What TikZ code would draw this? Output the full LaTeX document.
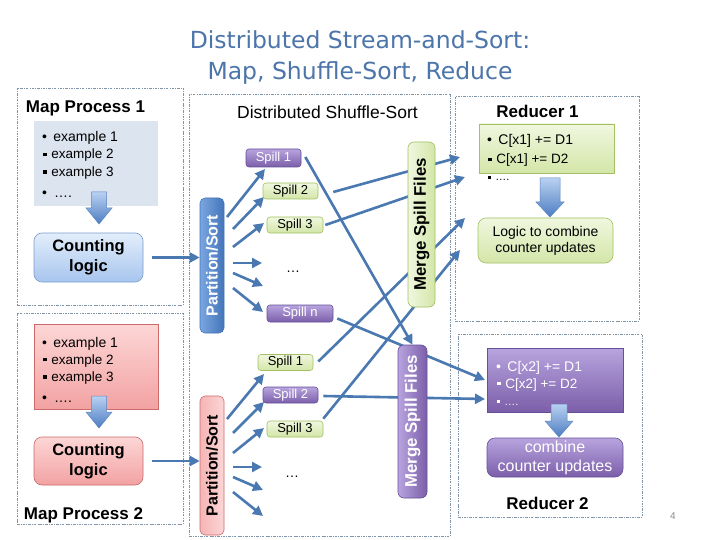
\documentclass[tikz,border=0pt]{standalone}
\usepackage{fontspec}
\setmainfont{Liberation Sans}
\newfontfamily\titlefont{DejaVu Sans}
\usetikzlibrary{arrows.meta}
\pgfdeclarelayer{bg}
\pgfsetlayers{bg,main}
\definecolor{titlec}{HTML}{4C75AA}
\definecolor{dashc}{HTML}{7F93A9}
\definecolor{arrc}{HTML}{4A78B0}
\definecolor{greytbox}{HTML}{DCE4EF}
\definecolor{grtop}{HTML}{F0F7DF}
\definecolor{grbot}{HTML}{D3E6A8}
\definecolor{grline}{HTML}{A3C163}
\definecolor{putop}{HTML}{B8A4DE}
\definecolor{pubot}{HTML}{7B5EA9}
\definecolor{puline}{HTML}{65509A}
\definecolor{bltop}{HTML}{E3EEFB}
\definecolor{blbot}{HTML}{A7C5EE}
\definecolor{blline}{HTML}{7C9DCF}
\definecolor{bbleft}{HTML}{7AA6E0}
\definecolor{bbright}{HTML}{4475BA}
\definecolor{pktop}{HTML}{FDD6D6}
\definecolor{pkbot}{HTML}{F2A2A2}
\definecolor{pkline}{HTML}{CC6A6A}
\definecolor{batop}{HTML}{B9D1F1}
\definecolor{babot}{HTML}{4D7DC2}
\definecolor{baline}{HTML}{5A86C2}
\definecolor{pagec}{HTML}{8C8C8C}
\newcommand\mysq{\raisebox{0.2em}{\rule{0.25em}{0.25em}}}
\newcommand\bkarrow[6]{%
  \shade[top color=batop, bottom color=babot, draw=baline, line width=0.5pt]
  ({#1-#5/2},#2) -- ({#1+#5/2},#2) -- ({#1+#5/2},#3) -- ({#1+#6/2},#3) --
  (#1,#4) -- ({#1-#6/2},#3) -- ({#1-#5/2},#3) -- cycle;}
\begin{document}
\begin{tikzpicture}[x=1pt,y=-1pt,
  dbox/.style={draw=dashc, line width=0.75pt, dash pattern=on 2.5pt off 1.2pt on 0.7pt off 1.2pt, rectangle, inner sep=0},
  conn/.style={draw=arrc, line width=2.6pt, -{Triangle[length=10pt,width=10pt]}},
  box/.style={rectangle, inner sep=0, line width=0.6pt},
  grbox/.style={box, top color=grtop, bottom color=grbot, draw=grline},
  pubox/.style={box, top color=putop, bottom color=pubot, draw=puline, text=white},
  spill/.style={rounded corners=3pt, minimum width=55pt, minimum height=16pt, font=\fontsize{13}{15}\selectfont},
  rotlbl/.style={rotate=90, font=\fontsize{16}{18}\selectfont\bfseries, inner sep=0},
  lbl/.style={font=\fontsize{17}{20}\selectfont\bfseries, inner sep=0, anchor=base},
  exl/.style={font=\fontsize{14}{16}\selectfont, inner sep=0, anchor=base west},
  exs/.style={font=\fontsize{13.5}{16}\selectfont, inner sep=0, anchor=base west}]
\useasboundingbox (0,0) rectangle (720,540);
\begin{pgfonlayer}{bg}
\fill[white] (0,0) rectangle (720,540);
\end{pgfonlayer}

% title
\node[font=\titlefont\fontsize{23.5}{28}\selectfont, text=titlec, anchor=base, inner sep=0] (t1) at (360,49) {Distributed Stream-and-Sort:};
\node[font=\titlefont\fontsize{23.5}{28}\selectfont, text=titlec, anchor=base, inner sep=0] (t2) at (360,80) {Map, Shuffle-Sort, Reduce};

% dashed containers
\begin{pgfonlayer}{bg}
\node[dbox, minimum width=166pt, minimum height=217pt] (map1) at (100,196.5) {};
\node[dbox, minimum width=261pt, minimum height=442pt] (shuf) at (319.5,315) {};
\node[dbox, minimum width=184pt, minimum height=225pt] (red1) at (547,208.5) {};
\node[dbox, minimum width=166pt, minimum height=211pt] (map2) at (100,418.5) {};
\node[dbox, minimum width=184pt, minimum height=183pt] (red2) at (550,425.5) {};
\end{pgfonlayer}

% labels
\node[lbl] (lm1) at (85.5,113) {Map Process 1};
\node[lbl] (lm2) at (83.5,519) {Map Process 2};
\node[lbl, font=\fontsize{17.5}{20}\selectfont] (lsh) at (327.5,119) {Distributed Shuffle-Sort};
\node[lbl] (lr1) at (537.5,118) {Reducer 1};
\node[lbl] (lr2) at (547.5,509) {Reducer 2};

% Map process 1
\node[box, fill=greytbox, minimum width=124pt, minimum height=85pt] (ex1) at (96,163.5) {};
\node[exl] (m1a) at (42,142) {•\hspace{0.45em}example 1};
\node[exs] (m1b) at (43,159) {\mysq\hspace{0.35em}example 2};
\node[exs] (m1c) at (43,176.5) {\mysq\hspace{0.35em}example 3};
\node[exl] (m1d) at (42,197) {•\hspace{0.5em}….};
\bkarrow{99}{192}{208}{224}{15}{26}
\node[box, rounded corners=8pt, top color=bltop, bottom color=blbot, draw=blline, minimum width=109pt, minimum height=49pt, align=center, font=\fontsize{16.5}{20}\selectfont\bfseries] (cl1) at (88.5,257.5) {Counting\\logic};

% Map process 2
\node[box, top color=pktop, bottom color=pkbot, draw=pkline, minimum width=124pt, minimum height=85pt] (ex2) at (96,366.5) {};
\node[exl] (m2a) at (42,347) {•\hspace{0.45em}example 1};
\node[exs] (m2b) at (43,364) {\mysq\hspace{0.35em}example 2};
\node[exs] (m2c) at (43,381.5) {\mysq\hspace{0.35em}example 3};
\node[exl] (m2d) at (42,402) {•\hspace{0.5em}….};
\bkarrow{99}{396}{412}{428}{15}{26}
\node[box, rounded corners=8pt, top color=pktop, bottom color=pkbot, draw=pkline, minimum width=109pt, minimum height=48pt, align=center, font=\fontsize{16.5}{20}\selectfont\bfseries] (cl2) at (88.5,461) {Counting\\logic};

% Partition/Sort boxes
\node[box, rounded corners=5pt, left color=bbleft, right color=bbright, draw=bbright, minimum width=24pt, minimum height=135pt] (p1) at (212,265.5) {};
\node[rotlbl, text=white] (p1t) at (p1.center) {Partition/Sort};
\node[box, rounded corners=5pt, left color=pkbot!80, right color=pktop, draw=pkline, minimum width=24pt, minimum height=139pt] (p2) at (212,465.5) {};
\node[rotlbl, text=black] (p2t) at (p2.center) {Partition/Sort};

% spills upper
\node[spill, pubox, minimum height=18pt] (s1a) at (273.5,158) {Spill 1};
\node[spill, grbox] (s2a) at (290.5,191) {Spill 2};
\node[spill, grbox, minimum width=56pt] (s3a) at (295,225) {Spill 3};
\node[font=\fontsize{14}{16}\selectfont, inner sep=0] (da) at (293,272) {…};
\node[spill, pubox, minimum width=66pt, minimum height=17pt] (sna) at (300,313.5) {Spill n};

% spills lower
\node[spill, grbox] (s1b) at (285.5,362.5) {Spill 1};
\node[spill, pubox] (s2b) at (290.5,395) {Spill 2};
\node[spill, grbox, minimum width=56pt] (s3b) at (295,429) {Spill 3};
\node[font=\fontsize{14}{16}\selectfont, inner sep=0] (db) at (292,477) {…};

% merge boxes
\node[box, rounded corners=6pt, left color=grtop, right color=grbot, draw=grline, minimum width=27pt, minimum height=165pt] (m1) at (421.5,224.5) {};
\node[rotlbl, font=\fontsize{16.8}{20}\selectfont\bfseries, text=black] (m1t) at (m1.center) {Merge Spill Files};
\node[box, rounded corners=6pt, left color=putop, right color=pubot, draw=puline, minimum width=29pt, minimum height=153pt] (m2) at (412.5,421.5) {};
\node[rotlbl, font=\fontsize{16.8}{20}\selectfont\bfseries, text=white] (m2t) at (m2.center) {Merge Spill Files};

% Reducer 1
\node[box, top color=grtop, bottom color=grbot, draw=grline, minimum width=135pt, minimum height=49pt] (rb1) at (546.5,148.5) {};
\node[exl] (r1a) at (487,145) {•\hspace{0.45em}C[x1] += D1};
\node[exs] (r1b) at (488,164) {\mysq\hspace{0.35em}C[x1] += D2};
\node[exs, font=\fontsize{11}{13}\selectfont] (r1c) at (488,181) {\mysq\hspace{0.4em}….};
\bkarrow{550}{178}{202}{217}{20}{28}
\node[grbox, rounded corners=8pt, minimum width=135pt, minimum height=45pt, align=center, font=\fontsize{14}{16}\selectfont] (lg1) at (545.5,240.5) {Logic to combine\\counter updates};

% Reducer 2
\node[pubox, minimum width=136pt, minimum height=64pt] (rb2) at (555,380) {};
\node[exl, text=white] (r2a) at (496,371) {•\hspace{0.45em}C[x2] += D1};
\node[exs, text=white] (r2b) at (497,388) {\mysq\hspace{0.35em}C[x2] += D2};
\node[exs, text=white, font=\fontsize{11}{13}\selectfont] (r2c) at (497,405) {\mysq\hspace{0.4em}….};
\bkarrow{559}{404}{421}{437}{16}{28}
\node[pubox, rounded corners=8pt, minimum width=136pt, minimum height=39pt, align=center, font=\fontsize{16}{19}\selectfont] (lg2) at (555,457.5) {combine\\counter updates};

% page number
\node[font=\fontsize{10}{12}\selectfont, text=pagec, anchor=base, inner sep=0] (pg) at (673,519) {4};

% connectors
\begin{pgfonlayer}{bg}
\draw[conn, shorten <=9pt] (cl1.east) -- (cl1.east -| p1.west);
\draw[conn, shorten <=9pt] (cl2.east) -- (cl2.east -| p2.west);
\foreach \i/\sx/\sy/\tx/\ty in {1/227/217/265/169, 2/233/229/264/197, 3/233/247/264/223, 4/233/263/262/263, 5/233/273/263/286, 6/233/288/263/312}{
  \coordinate (pa\i) at (\sx,\sy);
  \coordinate (qa\i) at (\tx,\ty);
  \draw[conn] (pa\i) -- (qa\i);
}
\foreach \i/\sx/\sy/\tx/\ty in {1/227/419/264/374, 2/233/433/264/402, 3/233/453/264/428, 4/233/467/262/467, 5/233/477/263/490, 6/233/492/263/516}{
  \coordinate (pb\i) at (\sx,\sy);
  \coordinate (qb\i) at (\tx,\ty);
  \draw[conn] (pb\i) -- (qb\i);
}
\coordinate (ta) at (460,157);
\coordinate (tb) at (465,177);
\coordinate (tc) at (465,218);
\coordinate (td) at (460,250);
\coordinate (te) at (485,380);
\coordinate (tf) at (485,399);
\draw[conn] ([shift={(4,-1)}]s1a.east) -- (m2.north);
\draw[conn] ([shift={(15,1)}]s2a.east) -- (ta);
\draw[conn] ([shift={(2,0)}]s3a.east) -- (tb);
\draw[conn] ([shift={(4,5)}]sna.east) -- (te);
\draw[conn] ([shift={(5,-1)}]s1b.east) -- (tc);
\draw[conn] ([shift={(5,1)}]s2b.east) -- (tf);
\draw[conn] ([shift={(0,-2)}]s3b.north east) -- (td);
\end{pgfonlayer}
\end{tikzpicture}
\end{document}
